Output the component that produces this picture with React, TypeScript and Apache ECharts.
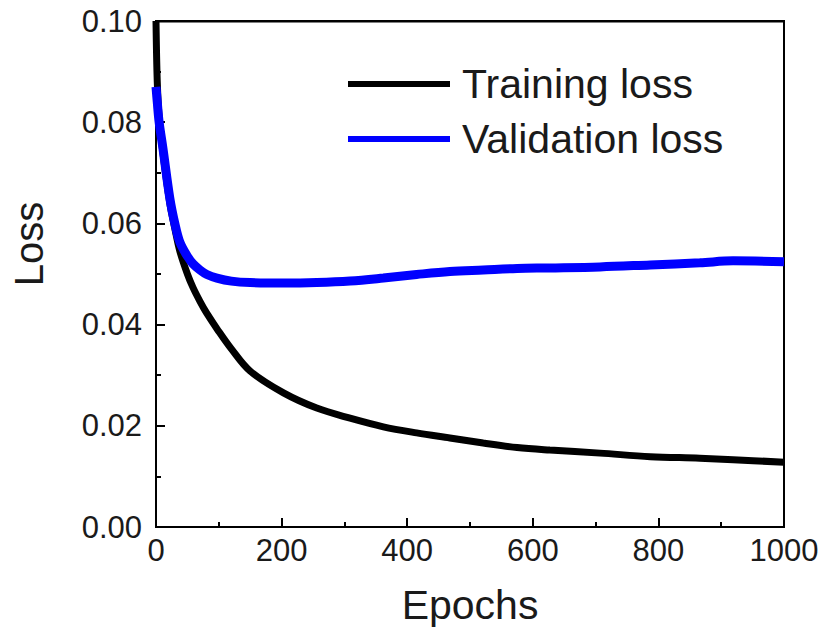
import React, { useEffect, useRef } from "react";
import * as echarts from "echarts";

const epochs = [0, 2, 5, 11, 22, 30, 38, 50, 59, 70, 81, 97, 120, 150, 203, 256, 309, 362, 415, 468, 521, 575, 627, 707, 787, 866, 919, 1000];
const trainingLoss = [0.1, 0.088, 0.081, 0.074, 0.064, 0.059, 0.0545, 0.05, 0.0473, 0.0446, 0.0422, 0.0392, 0.0352, 0.0308, 0.0265, 0.0235, 0.0215, 0.0198, 0.0186, 0.0176, 0.0166, 0.0157, 0.0152, 0.0146, 0.0139, 0.0136, 0.0133, 0.0128];
const validationLoss = [0.087, 0.084, 0.08, 0.0749, 0.065, 0.06, 0.0563, 0.0535, 0.052, 0.0508, 0.0499, 0.0492, 0.0486, 0.0483, 0.0482, 0.0483, 0.0486, 0.0492, 0.0499, 0.0505, 0.0508, 0.0511, 0.0512, 0.0514, 0.0518, 0.0522, 0.0526, 0.0524];
const seriesNames = ["Training loss", "Validation loss"];
const xTicks = { min: 0, max: 1000, interval: 200 };
const yTicks = { min: 0, max: 0.1, interval: 0.02 };

const FONT = "'Liberation Sans', Arial, sans-serif";
const TXT = "#1a1a1a";

export default function App() {
  const ref = useRef<HTMLDivElement>(null);
  useEffect(() => {
    if (!ref.current) return;
    const chart = echarts.init(ref.current, undefined, { renderer: "svg" });
    const axisLine = { show: true, onZero: false, lineStyle: { color: "#000", width: 2 } };
    chart.setOption({
      animation: false,
      backgroundColor: "#fff",
      grid: {
        left: 156,
        right: 38,
        top: 21,
        bottom: 107,
        containLabel: false,
        show: true,
        borderColor: "#000",
        borderWidth: 2,
        backgroundColor: "transparent",
      },
      legend: {
        orient: "vertical",
        left: 348,
        top: 63,
        icon: "rect",
        itemWidth: 102,
        itemHeight: 6,
        itemGap: 13,
        padding: 0,
        data: seriesNames,
        textStyle: { fontFamily: FONT, fontSize: 41, color: TXT, lineHeight: 42, padding: [0, 0, 0, 7] },
      },
      xAxis: {
        type: "value",
        min: xTicks.min,
        max: xTicks.max,
        interval: xTicks.interval,
        name: "Epochs",
        nameLocation: "middle",
        nameGap: 58,
        nameTextStyle: { fontFamily: FONT, fontSize: 41, color: TXT, lineHeight: 40 },
        axisLine,
        axisTick: { show: true, inside: true, length: 9, lineStyle: { color: "#000", width: 2 } },
        minorTick: { show: true, splitNumber: 2, length: 5, lineStyle: { color: "#000", width: 2 } },
        splitLine: { show: false },
        axisLabel: { fontFamily: FONT, fontSize: 31, color: TXT, margin: 8, formatter: (v: number) => String(v) },
      },
      yAxis: {
        type: "value",
        min: yTicks.min,
        max: yTicks.max,
        interval: yTicks.interval,
        axisLine,
        axisTick: { show: true, inside: true, length: 9, lineStyle: { color: "#000", width: 2 } },
        minorTick: { show: true, splitNumber: 2, length: 5, lineStyle: { color: "#000", width: 2 } },
        splitLine: { show: false },
        axisLabel: { fontFamily: FONT, fontSize: 31, color: TXT, margin: 14, formatter: (v: number) => v.toFixed(2) },
      },
      series: [
        {
          name: seriesNames[0],
          type: "line",
          data: epochs.map((e, i) => [e, trainingLoss[i]]),
          showSymbol: false,
          smooth: 0.35,
          color: "#000000",
          lineStyle: { color: "#000000", width: 7 },
        },
        {
          name: seriesNames[1],
          type: "line",
          data: epochs.map((e, i) => [e, validationLoss[i]]),
          showSymbol: false,
          smooth: 0.35,
          color: "#0000ff",
          lineStyle: { color: "#0000ff", width: 9 },
        },
      ],
    });
    const tl = chart.convertToPixel({ gridIndex: 0 }, [xTicks.min, yTicks.max]) as number[];
    const tr = chart.convertToPixel({ gridIndex: 0 }, [xTicks.max, yTicks.max]) as number[];
    chart.setOption({
      graphic: [
        {
          type: "rect",
          z: 100,
          shape: { x: tl[0] - 1, y: tl[1] - 1, width: tr[0] - tl[0] + 2, height: 2.5 },
          style: { fill: "#000" },
        },
        {
          type: "text",
          x: 29,
          y: 244,
          rotation: Math.PI / 2,
          style: { text: "Loss", font: `40px ${FONT}`, fill: TXT, textAlign: "center", textVerticalAlign: "middle" },
        },
      ],
    });
    return () => chart.dispose();
  }, []);
  return <div ref={ref} style={{ width: 822, height: 634, position: "absolute", left: 0, top: 0 }} />;
}
